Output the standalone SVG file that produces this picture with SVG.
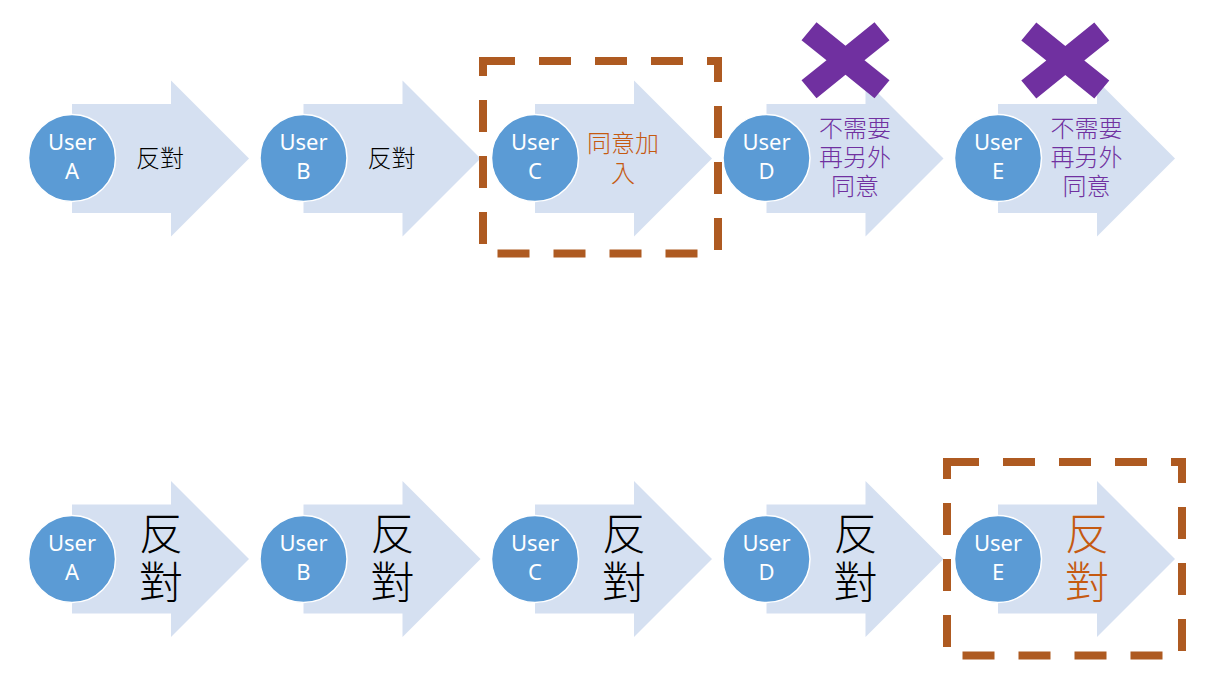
<svg xmlns="http://www.w3.org/2000/svg" width="1218" height="682" viewBox="0 0 1218 682">
<style>
.arrow{fill:#D5E0F1}
.circ{fill:#5B9BD5;stroke:#FFFFFF;stroke-width:1.5}
.ut{font-family:"Noto Sans","Open Sans","Liberation Sans",sans-serif;font-size:22px;fill:#FFFFFF;text-anchor:middle}
.zh{font-family:"Noto Sans CJK TC","Noto Sans CJK SC",sans-serif;font-size:24px;font-weight:300;text-anchor:middle}
.zhb{font-family:"Noto Sans CJK TC","Noto Sans CJK SC",sans-serif;font-size:44px;font-weight:300;text-anchor:middle}
.blk{fill:#000000}
.org{fill:#C55A11}
.pur{fill:#7030A0}
.dash{fill:none;stroke:#AE5A21;stroke-width:8;stroke-dasharray:32 24}
.xm{fill:#7030A0}
</style>
<defs>
<path id="arr" d="M0,-54.5 H99 V-78 L177,0 L99,78 V54.5 H0 Z"/>
<path id="xs" d="M-29,-38 L0,-14.5 L29,-38 L44,-20 L19,0 L44,20 L29,38 L0,14.5 L-29,38 L-44,20 L-19,0 L-44,-20 Z"/>
</defs>

<!-- Top row -->
<g id="top-a">
<use href="#arr" class="arrow" transform="translate(72,158.5)"/>
<circle class="circ" cx="72" cy="158" r="43.5"/>
<text class="ut" x="72" y="150">User<tspan x="72" dy="29">A</tspan></text>
<text class="zh blk" x="160" y="167">反對</text>
</g>
<g id="top-b">
<use href="#arr" class="arrow" transform="translate(303.5,158.5)"/>
<circle class="circ" cx="303.5" cy="158" r="43.5"/>
<text class="ut" x="303.5" y="150">User<tspan x="303.5" dy="29">B</tspan></text>
<text class="zh blk" x="391.5" y="167">反對</text>
</g>
<g id="top-c">
<use href="#arr" class="arrow" transform="translate(535,158.5)"/>
<circle class="circ" cx="535" cy="158" r="43.5"/>
<text class="ut" x="535" y="150">User<tspan x="535" dy="29">C</tspan></text>
<text class="zh org" x="623" y="152">同意加<tspan x="623" dy="29.5">入</tspan></text>
</g>
<g id="top-d">
<use href="#arr" class="arrow" transform="translate(766.5,158.5)"/>
<circle class="circ" cx="766.5" cy="158" r="43.5"/>
<text class="ut" x="766.5" y="150">User<tspan x="766.5" dy="29">D</tspan></text>
<text class="zh pur" x="855" y="137">不需要<tspan x="855" dy="29">再另外</tspan><tspan x="855" dy="29">同意</tspan></text>
</g>
<g id="top-e">
<use href="#arr" class="arrow" transform="translate(998,158.5)"/>
<circle class="circ" cx="998" cy="158" r="43.5"/>
<text class="ut" x="998" y="150">User<tspan x="998" dy="29">E</tspan></text>
<text class="zh pur" x="1086.5" y="137">不需要<tspan x="1086.5" dy="29">再另外</tspan><tspan x="1086.5" dy="29">同意</tspan></text>
</g>
<g id="highlight-c">
<rect class="dash" x="483" y="61" width="235" height="192.5"/>
</g>
<g id="cross-d">
<use href="#xs" class="xm" transform="translate(845.5,60.3)"/>
</g>
<g id="cross-e">
<use href="#xs" class="xm" transform="translate(1065.3,60.6)"/>
</g>

<!-- Bottom row -->
<g id="bottom-a">
<use href="#arr" class="arrow" transform="translate(72,559)"/>
<circle class="circ" cx="72" cy="559" r="43.5"/>
<text class="ut" x="72" y="551">User<tspan x="72" dy="29">A</tspan></text>
<text class="zhb blk" x="161" y="550">反<tspan x="161" dy="49">對</tspan></text>
</g>
<g id="bottom-b">
<use href="#arr" class="arrow" transform="translate(303.5,559)"/>
<circle class="circ" cx="303.5" cy="559" r="43.5"/>
<text class="ut" x="303.5" y="551">User<tspan x="303.5" dy="29">B</tspan></text>
<text class="zhb blk" x="392.5" y="550">反<tspan x="392.5" dy="49">對</tspan></text>
</g>
<g id="bottom-c">
<use href="#arr" class="arrow" transform="translate(535,559)"/>
<circle class="circ" cx="535" cy="559" r="43.5"/>
<text class="ut" x="535" y="551">User<tspan x="535" dy="29">C</tspan></text>
<text class="zhb blk" x="624" y="550">反<tspan x="624" dy="49">對</tspan></text>
</g>
<g id="bottom-d">
<use href="#arr" class="arrow" transform="translate(766.5,559)"/>
<circle class="circ" cx="766.5" cy="559" r="43.5"/>
<text class="ut" x="766.5" y="551">User<tspan x="766.5" dy="29">D</tspan></text>
<text class="zhb blk" x="855.5" y="550">反<tspan x="855.5" dy="49">對</tspan></text>
</g>
<g id="bottom-e">
<use href="#arr" class="arrow" transform="translate(998,559)"/>
<circle class="circ" cx="998" cy="559" r="43.5"/>
<text class="ut" x="998" y="551">User<tspan x="998" dy="29">E</tspan></text>
<text class="zhb org" x="1087" y="550">反<tspan x="1087" dy="49">對</tspan></text>
</g>
<g id="highlight-e">
<rect class="dash" x="947" y="462" width="235" height="193.5"/>
</g>
</svg>
